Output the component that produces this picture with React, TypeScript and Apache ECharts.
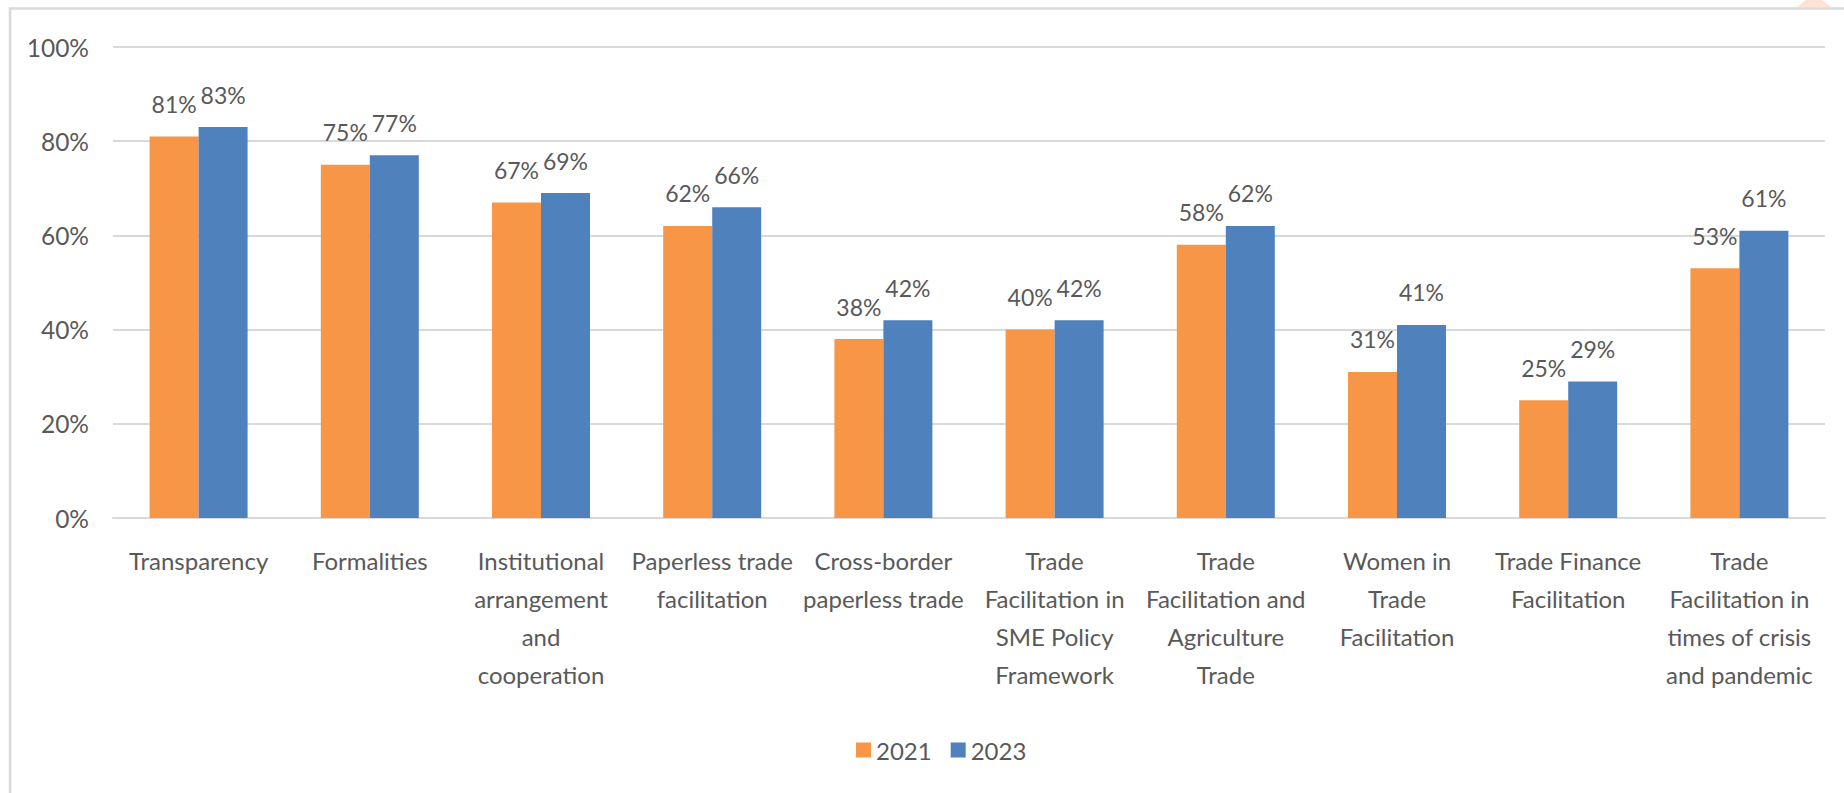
import React, { useEffect, useRef } from "react";
import * as echarts from "echarts";

const categories = [
  "Transparency",
  "Formalities",
  "Institutional\narrangement\nand\ncooperation",
  "Paperless trade\nfacilitation",
  "Cross-border\npaperless trade",
  "Trade\nFacilitation in\nSME Policy\nFramework",
  "Trade\nFacilitation and\nAgriculture\nTrade",
  "Women in\nTrade\nFacilitation",
  "Trade Finance\nFacilitation",
  "Trade\nFacilitation in\ntimes of crisis\nand pandemic",
];
const values2021 = [81, 75, 67, 62, 38, 40, 58, 31, 25, 53];
const values2023 = [83, 77, 69, 66, 42, 42, 62, 41, 29, 61];
const seriesNames = ["2021", "2023"];
const yTicks = { min: 0, max: 100, interval: 20 };

const FONT = "Lato";
const TEXT = "#595959";

export default function App() {
  const ref = useRef<HTMLDivElement>(null);
  useEffect(() => {
    if (!ref.current) return;
    const chart = echarts.init(ref.current, null, { renderer: "svg" });
    const label = {
      show: true,
      position: "top",
      distance: 21,
      formatter: "{c}%",
      color: TEXT,
      fontFamily: FONT,
      fontSize: 23,
    };
    chart.setOption({
      animation: false,
      backgroundColor: "#ffffff",
      textStyle: { fontFamily: FONT },
      graphic: [
        {
          type: "rect",
          shape: { x: 10, y: 8.5, width: 1900, height: 900 },
          style: { fill: "none", stroke: "#d9d9d9", lineWidth: 2.5 },
          silent: true,
        },
        {
          type: "polygon",
          shape: { points: [[1797, 7], [1806, 0], [1822, 0], [1831, 7]] },
          style: { fill: "#fde3d4" },
          silent: true,
        },
      ],
      grid: { left: 113, right: 19, top: 47, bottom: 275, containLabel: false },
      legend: {
        data: seriesNames,
        left: 851,
        top: 733,
        itemWidth: 15,
        itemHeight: 15,
        itemGap: 19,
        icon: "rect",
        textStyle: { color: TEXT, fontFamily: FONT, fontSize: 24, padding: [0, 0, 0, 0] },
      },
      xAxis: {
        type: "category",
        data: categories,
        axisLine: { show: true, lineStyle: { color: "#d9d9d9", width: 2 } },
        axisTick: { show: false },
        axisLabel: {
          interval: 0,
          color: TEXT,
          fontFamily: FONT,
          fontSize: 24,
          lineHeight: 38,
          margin: 23,
          align: "center",
        },
      },
      yAxis: {
        type: "value",
        min: yTicks.min,
        max: yTicks.max,
        interval: yTicks.interval,
        axisLine: { show: false },
        axisTick: { show: false },
        splitLine: { lineStyle: { color: "#d9d9d9", width: 2 } },
        axisLabel: {
          formatter: "{value}%",
          color: TEXT,
          fontFamily: FONT,
          fontSize: 24.5,
          margin: 24,
        },
      },
      series: [
        {
          name: seriesNames[0],
          type: "bar",
          data: values2021,
          barWidth: 49,
          barGap: "0%",
          itemStyle: { color: "#F79646" },
          label,
        },
        {
          name: seriesNames[1],
          type: "bar",
          data: values2023,
          barWidth: 49,
          barGap: "0%",
          itemStyle: { color: "#4F81BD" },
          label,
        },
      ],
    });
    return () => chart.dispose();
  }, []);
  return (
    <div
      ref={ref}
      style={{ position: "absolute", left: 0, top: 0, width: 1844, height: 793 }}
    />
  );
}
